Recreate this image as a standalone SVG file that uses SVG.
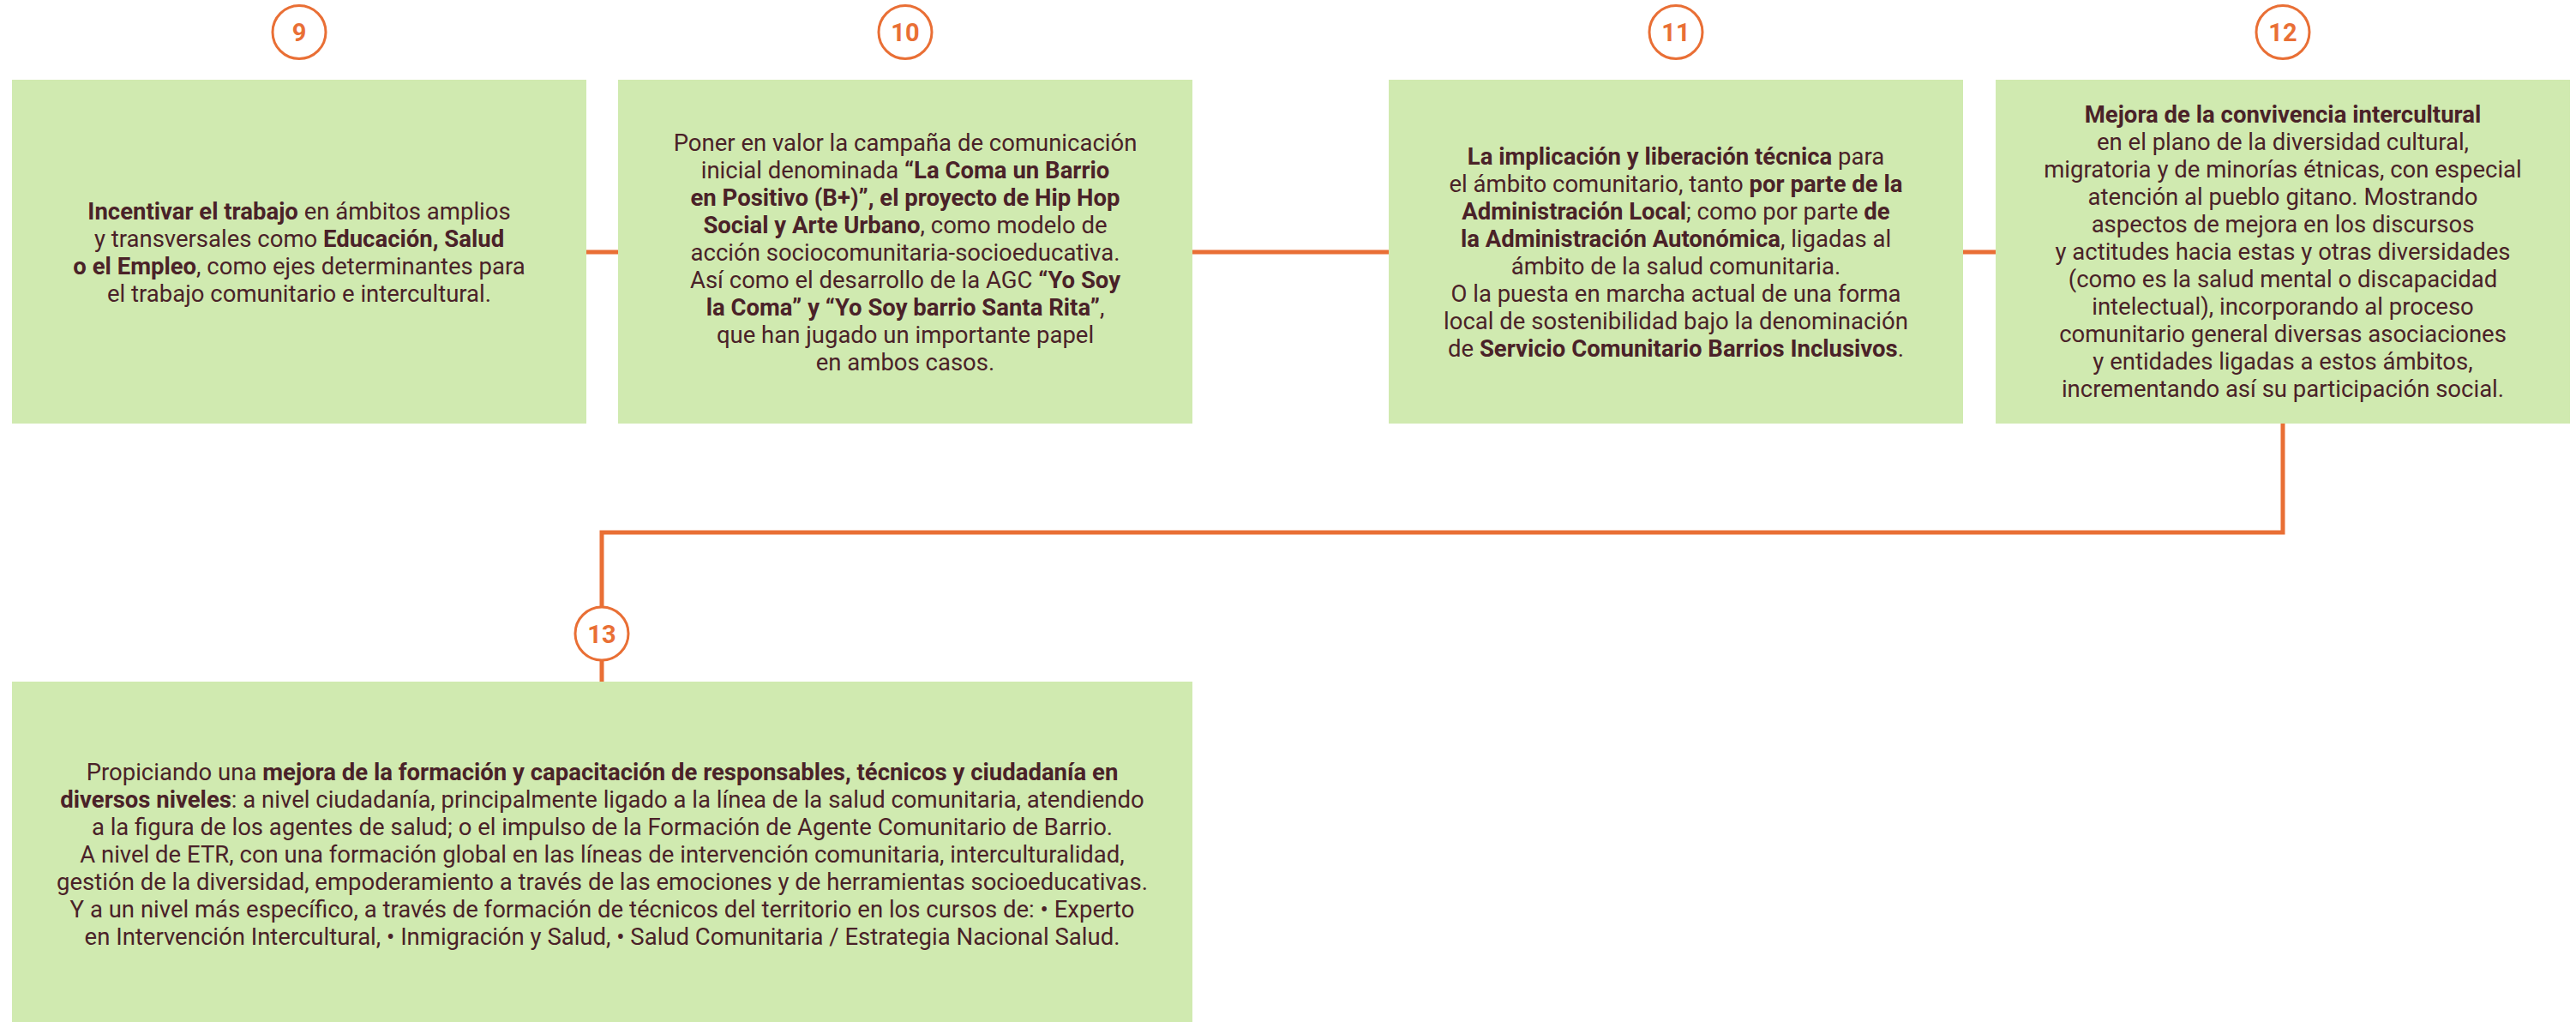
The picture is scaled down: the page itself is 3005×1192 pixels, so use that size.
<svg xmlns="http://www.w3.org/2000/svg" width="3005" height="1192" viewBox="0 0 3005 1192">
<style>
.box{fill:#D0EAB0}
.t{font-family:Roboto,"Liberation Sans",sans-serif;font-size:27.5px;fill:#4A2228;text-anchor:middle}
.b{font-weight:700}
.c{fill:#fff;stroke:#E96F35;stroke-width:3}
.n{font-family:Roboto,"Liberation Sans",sans-serif;font-size:29px;font-weight:700;fill:#E96F35;text-anchor:middle}
.ln{fill:none;stroke:#E96F35;stroke-width:5}
</style>
<rect width="3005" height="1192" fill="#fff"/>
<g id="connectors">
<line class="ln" x1="684" y1="294" x2="721" y2="294"/>
<line class="ln" x1="1391" y1="294" x2="1620" y2="294"/>
<line class="ln" x1="2290" y1="294" x2="2328" y2="294"/>
<polyline class="ln" points="2663,494 2663,621 702,621 702,795"/>
</g>
<g id="node9">
<rect class="box" x="14" y="93" width="670" height="401"/>
<circle class="c" cx="349" cy="37.5" r="31"/>
<text class="n" x="349" y="48">9</text>
<text class="t" x="349" y="256"><tspan class="b">Incentivar el trabajo</tspan> en ámbitos amplios</text>
<text class="t" x="349" y="288">y transversales como <tspan class="b">Educación, Salud</tspan></text>
<text class="t" x="349" y="320"><tspan class="b">o el Empleo</tspan>, como ejes determinantes para</text>
<text class="t" x="349" y="352">el trabajo comunitario e intercultural.</text>
</g>
<g id="node10">
<rect class="box" x="721" y="93" width="670" height="401"/>
<circle class="c" cx="1056" cy="37.5" r="31"/>
<text class="n" x="1056" y="48">10</text>
<text class="t" x="1056" y="176">Poner en valor la campaña de comunicación</text>
<text class="t" x="1056" y="208">inicial denominada <tspan class="b">“La Coma un Barrio</tspan></text>
<text class="t" x="1056" y="240"><tspan class="b">en Positivo (B+)”, el proyecto de Hip Hop</tspan></text>
<text class="t" x="1056" y="272"><tspan class="b">Social y Arte Urbano</tspan>, como modelo de</text>
<text class="t" x="1056" y="304">acción sociocomunitaria-socioeducativa.</text>
<text class="t" x="1056" y="336">Así como el desarrollo de la AGC <tspan class="b">“Yo Soy</tspan></text>
<text class="t" x="1056" y="368"><tspan class="b">la Coma” y “Yo Soy barrio Santa Rita”</tspan>,</text>
<text class="t" x="1056" y="400">que han jugado un importante papel</text>
<text class="t" x="1056" y="432">en ambos casos.</text>
</g>
<g id="node11">
<rect class="box" x="1620" y="93" width="670" height="401"/>
<circle class="c" cx="1955" cy="37.5" r="31"/>
<text class="n" x="1955" y="48">11</text>
<text class="t" x="1955" y="192"><tspan class="b">La implicación y liberación técnica</tspan> para</text>
<text class="t" x="1955" y="224">el ámbito comunitario, tanto <tspan class="b">por parte de la</tspan></text>
<text class="t" x="1955" y="256"><tspan class="b">Administración Local</tspan>; como por parte <tspan class="b">de</tspan></text>
<text class="t" x="1955" y="288"><tspan class="b">la Administración Autonómica</tspan>, ligadas al</text>
<text class="t" x="1955" y="320">ámbito de la salud comunitaria.</text>
<text class="t" x="1955" y="352">O la puesta en marcha actual de una forma</text>
<text class="t" x="1955" y="384">local de sostenibilidad bajo la denominación</text>
<text class="t" x="1955" y="416">de <tspan class="b">Servicio Comunitario Barrios Inclusivos</tspan>.</text>
</g>
<g id="node12">
<rect class="box" x="2328" y="93" width="670" height="401"/>
<circle class="c" cx="2663" cy="37.5" r="31"/>
<text class="n" x="2663" y="48">12</text>
<text class="t" x="2663" y="143"><tspan class="b">Mejora de la convivencia intercultural</tspan></text>
<text class="t" x="2663" y="175">en el plano de la diversidad cultural,</text>
<text class="t" x="2663" y="207">migratoria y de minorías étnicas, con especial</text>
<text class="t" x="2663" y="239">atención al pueblo gitano. Mostrando</text>
<text class="t" x="2663" y="271">aspectos de mejora en los discursos</text>
<text class="t" x="2663" y="303">y actitudes hacia estas y otras diversidades</text>
<text class="t" x="2663" y="335">(como es la salud mental o discapacidad</text>
<text class="t" x="2663" y="367">intelectual), incorporando al proceso</text>
<text class="t" x="2663" y="399">comunitario general diversas asociaciones</text>
<text class="t" x="2663" y="431">y entidades ligadas a estos ámbitos,</text>
<text class="t" x="2663" y="463">incrementando así su participación social.</text>
</g>
<g id="node13">
<rect class="box" x="14" y="795" width="1377" height="397"/>
<circle class="c" cx="702" cy="739" r="31"/>
<text class="n" x="702" y="749.5">13</text>
<text class="t" x="702.5" y="910">Propiciando una <tspan class="b">mejora de la formación y capacitación de responsables, técnicos y ciudadanía en</tspan></text>
<text class="t" x="702.5" y="942"><tspan class="b">diversos niveles</tspan>: a nivel ciudadanía, principalmente ligado a la línea de la salud comunitaria, atendiendo</text>
<text class="t" x="702.5" y="974">a la figura de los agentes de salud; o el impulso de la Formación de Agente Comunitario de Barrio.</text>
<text class="t" x="702.5" y="1006">A nivel de ETR, con una formación global en las líneas de intervención comunitaria, interculturalidad,</text>
<text class="t" x="702.5" y="1038">gestión de la diversidad, empoderamiento a través de las emociones y de herramientas socioeducativas.</text>
<text class="t" x="702.5" y="1070">Y a un nivel más específico, a través de formación de técnicos del territorio en los cursos de: • Experto</text>
<text class="t" x="702.5" y="1102">en Intervención Intercultural, • Inmigración y Salud, • Salud Comunitaria / Estrategia Nacional Salud.</text>
</g>
</svg>
